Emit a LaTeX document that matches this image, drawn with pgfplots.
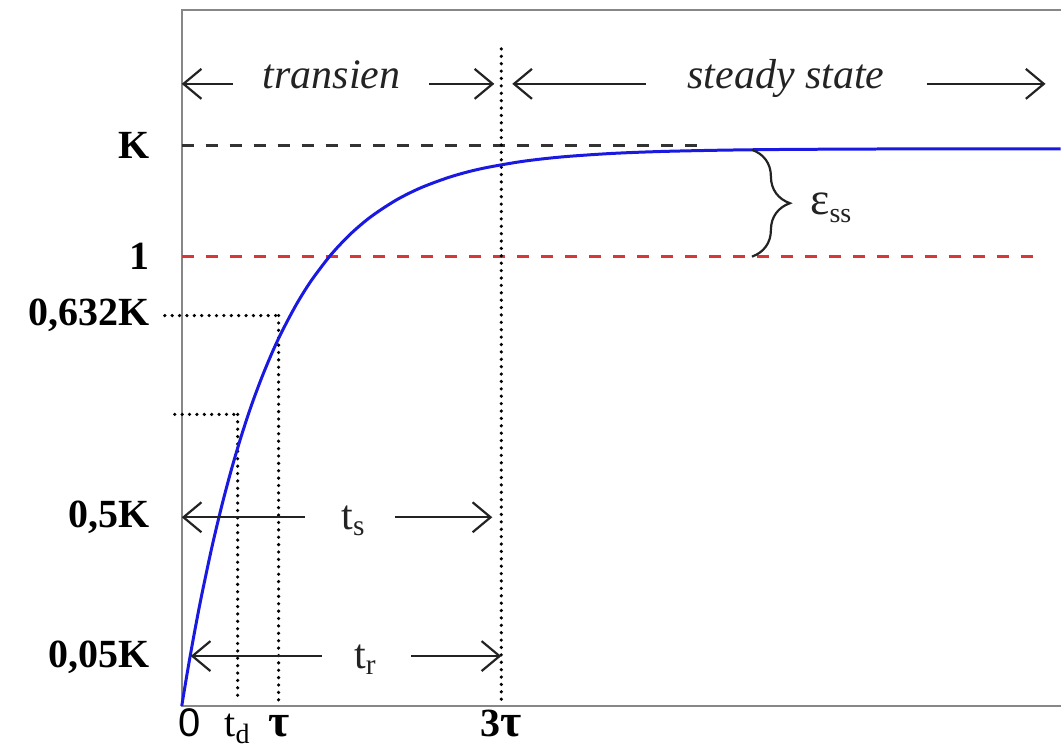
\documentclass[border=0pt]{standalone}
\usepackage{fontspec}
\setmainfont{Liberation Serif}
\newfontfamily\arialf{Liberation Sans}
\usepackage{pgfplots}
\pgfplotsset{compat=1.18}
\usetikzlibrary{arrows.meta,decorations.pathreplacing}
\definecolor{curveblue}{RGB}{25,25,225}
\definecolor{refred}{RGB}{215,55,55}
\definecolor{axisgray}{RGB}{135,135,135}
\definecolor{ink}{RGB}{35,35,35}
\newcommand{\tauL}{{\fontsize{23}{26}\selectfont\bfseries τ}}

\begin{document}
\begin{tikzpicture}
\begin{axis}[
  x=0.5pt, y=0.5pt,
  xmin=0, xmax=880, ymin=0, ymax=697,
  clip=false,
  axis line style={draw=none},
  tick style={draw=none},
  major tick length=0pt,
  xtick={8,56,97,320},
  xticklabels={{\arialf 0},{t\textsubscript{d}},{\tauL},{\textbf{3}\tauL}},
  xticklabel style={anchor=base, inner sep=0pt, yshift=-15.5pt,
    font=\fontsize{20}{24}\selectfont},
  ytick={49,189,391,450,561},
  yticklabels={{0,05K},{0,5K},{0,632K},{1\hspace{8pt}},{K}},
  yticklabel style={anchor=east, inner sep=0pt, xshift=-16pt,
    font=\bfseries\fontsize{20}{24}\selectfont},
]
% frame: left, top, bottom
\draw[axisgray, line width=1pt] (axis cs:880,697) -- (axis cs:0,697) -- (axis cs:0,0) -- (axis cs:880,0);

% reference levels
\addplot[black!80, line width=1.5pt, dash pattern=on 6pt off 6pt] coordinates {(0,561) (518,561)};
\addplot[refred, line width=1.5pt, dash pattern=on 6pt off 6pt] coordinates {(0,450) (861,450)};

% dotted guides
\tikzset{dots/.style={black, line width=1.8pt, line cap=round, dash pattern=on 0pt off 3.7pt}}
\addplot[dots] coordinates {(-17,391) (100,391)};
\addplot[dots] coordinates {(97,391) (97,3)};
\addplot[dots] coordinates {(-7,292) (56,292)};
\addplot[dots] coordinates {(56,292) (56,10)};
\addplot[dots] coordinates {(320,658) (320,3)};

% step response
\addplot[curveblue, line width=1.5pt, smooth] coordinates {
  (0,0) (5,30.2) (10,58.7) (15,85.7) (20,111.2) (30,158.2) (40,200.2)
  (50,237.8) (60,271.5) (70,301.7) (80,328.6) (90,352.7) (100,374.3)
  (115,402.5) (130,426.4) (150,452.6) (170,473.6) (190,490.4) (215,506.8)
  (240,519.2) (270,530.2) (300,538.1) (340,545.2) (380,549.8) (430,553.3)
  (480,555.3) (540,556.6) (600,557.3) (700,557.8) (880,558)};

% annotations
\tikzset{arr/.style={ink, line width=1.1pt, -{Straight Barb[length=9pt,width=15pt,line width=1.1pt]}}}
\draw[arr] (axis cs:51,623) -- (axis cs:0,623);
\draw[arr] (axis cs:248,623) -- (axis cs:313,623);
\node[anchor=base, font=\itshape\fontsize{21}{25}\selectfont, text=ink] at (axis cs:150,618) {transien};
\draw[arr] (axis cs:465,623) -- (axis cs:331,623);
\draw[arr] (axis cs:746,623) -- (axis cs:865,623);
\node[anchor=base, font=\itshape\fontsize{21}{25}\selectfont, text=ink] at (axis cs:605,618) {steady state};

\draw[arr] (axis cs:123,189) -- (axis cs:0,189);
\draw[arr] (axis cs:214,189) -- (axis cs:311,189);
\node[anchor=base, font=\fontsize{21}{25}\selectfont, text=ink] at (axis cs:172,177) {t\textsubscript{s}};
\draw[arr] (axis cs:140,50) -- (axis cs:9,50);
\draw[arr] (axis cs:230,50) -- (axis cs:320,50);
\node[anchor=base, font=\fontsize{21}{25}\selectfont, text=ink] at (axis cs:184,38) {t\textsubscript{r}};

\draw[ink, line width=1.1pt, decorate, decoration={brace, amplitude=19pt}] (axis cs:571,557) -- (axis cs:571,450);
\node[anchor=base west, inner sep=0pt, text=ink] at (axis cs:629,492)
  {{\fontsize{23}{26}\selectfont ε}{\fontsize{14}{16}\selectfont\raisebox{-4pt}{ss}}};

% canvas
\path (axis cs:-182,-49) rectangle (axis cs:880,707);
\end{axis}
\end{tikzpicture}
\end{document}
